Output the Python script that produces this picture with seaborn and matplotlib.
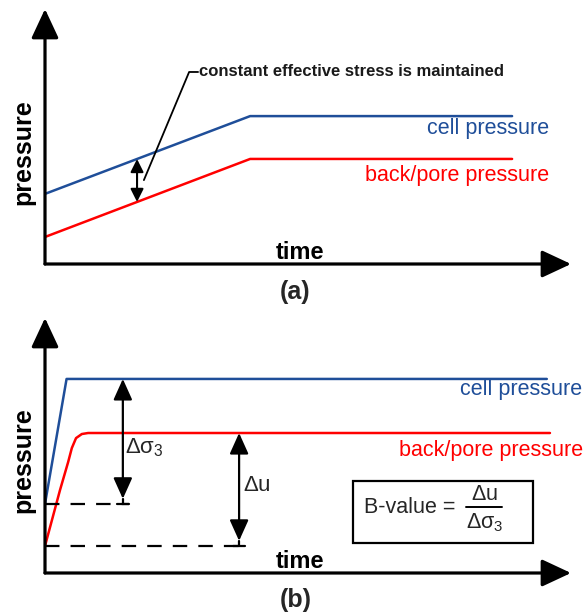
import matplotlib
matplotlib.use("Agg")
import matplotlib.pyplot as plt
from matplotlib.patches import Rectangle
import seaborn as sns

# ---------------- data ----------------
# panel (a): ramped cell and back/pore pressure
time_a = [0.0, 3.9, 8.88]
cell_a = [2.75, 5.8, 5.8]
pore_a = [1.06, 4.12, 4.12]

# panel (b): B-value check
time_b_cell = [0.0, 0.41, 9.54]
cell_b = [2.71, 7.61, 7.61]
time_b_pore = [0.0, 0.285, 0.44, 0.51, 0.59, 0.70, 0.82, 9.6]
pore_b = [1.06, 3.25, 4.35, 4.9, 5.29, 5.45, 5.49, 5.49]

labels_a = ["cell pressure", "back/pore pressure"]
labels_b = ["cell pressure", "back/pore pressure"]
annotation_a = "constant effective stress is maintained"

BLUE = "#1f4e99"
RED = "#ff0000"

sns.set_theme(style="white")
plt.rcParams["font.family"] = ["Liberation Sans", "DejaVu Sans"]
plt.rcParams["mathtext.fontset"] = "custom"
plt.rcParams["mathtext.rm"] = "Liberation Sans"
plt.rcParams["mathtext.it"] = "Liberation Sans"
plt.rcParams["mathtext.bf"] = "Liberation Sans:bold"

fig = plt.figure(figsize=(5.85, 6.13), dpi=100)
fig.patch.set_facecolor("white")
axa = fig.add_axes([45 / 585, (613 - 264) / 613, 526 / 585, 255 / 613])
axb = fig.add_axes([45 / 585, (613 - 573) / 613, 526 / 585, 255 / 613])


def style_axes(ax, ylab_y):
    ax.set_xlim(0, 10)
    ax.set_ylim(0, 10)
    ax.set_xticks([])
    ax.set_yticks([])
    for s in ax.spines.values():
        s.set_visible(False)
    ax.set_facecolor("none")
    for end in [(1, 0), (0, 1)]:
        ax.annotate("", xy=end, xytext=(0, 0), xycoords="axes fraction",
                    arrowprops=dict(arrowstyle="-|>,head_length=0.9,head_width=0.42",
                                    mutation_scale=20, lw=2.3, color="black",
                                    shrinkA=0, shrinkB=0), annotation_clip=False)
    ax.set_ylabel("pressure", fontsize=18, fontweight="bold", color="black")
    ax.yaxis.label.set_va("center")
    ax.yaxis.set_label_coords(-0.042, ylab_y)
    ax.set_xlabel("time", fontsize=17, fontweight="bold", color="black")
    ax.xaxis.label.set_va("center")
    ax.xaxis.set_label_coords(0.485, 0.047)


# ---------------- panel (a) ----------------
sns.lineplot(x=time_a, y=cell_a, ax=axa, color=BLUE, lw=1.8)
sns.lineplot(x=time_a, y=pore_a, ax=axa, color=RED, lw=1.8)
style_axes(axa, 0.44)

axa.text(9.58, 5.33, labels_a[0], color=BLUE, fontsize=15.5, ha="right", va="center")
axa.text(9.58, 3.49, labels_a[1], color=RED, fontsize=15.5, ha="right", va="center")

t_arr = 1.75
c_at = cell_a[0] + (cell_a[1] - cell_a[0]) * t_arr / time_a[1]
p_at = pore_a[0] + (pore_a[1] - pore_a[0]) * t_arr / time_a[1]
axa.annotate("", xy=(t_arr, c_at), xytext=(t_arr, p_at),
             arrowprops=dict(arrowstyle="<|-|>,head_length=0.6,head_width=0.3",
                             mutation_scale=13, lw=1.5, color="black",
                             shrinkA=0, shrinkB=0))
axa.plot([1.88, 2.74, 2.91], [3.29, 7.53, 7.53], color="black", lw=1.3)
axa.text(2.93, 7.53, annotation_a, fontsize=12, fontweight="bold", color="#1a1a1a",
         ha="left", va="center")

fig.text(295 / 585, 1 - 292 / 613, "(a)", fontsize=18, fontweight="bold",
         ha="center", va="center")

# ---------------- panel (b) ----------------
sns.lineplot(x=time_b_cell, y=cell_b, ax=axb, color=BLUE, lw=1.8)
sns.lineplot(x=time_b_pore, y=pore_b, ax=axb, color=RED, lw=1.8)
style_axes(axb, 0.443)

axb.text(10.21, 7.18, labels_b[0], color=BLUE, fontsize=15.5, ha="right", va="center", clip_on=False)
axb.text(10.24, 4.82, labels_b[1], color=RED, fontsize=15.5, ha="right", va="center", clip_on=False)

x1, x2 = 1.48, 3.69
axb.plot([0, x1 + 0.12], [cell_b[0], cell_b[0]], color="black", lw=1.6, dashes=(6.5, 5))
axb.plot([0, x2 + 0.12], [pore_b[0], pore_b[0]], color="black", lw=1.6, dashes=(6.5, 5))
for x, top, bot in [(x1, cell_b[-1], cell_b[0]), (x2, pore_b[-1], pore_b[0])]:
    axb.annotate("", xy=(x, top), xytext=(x, bot + 0.2),
                 arrowprops=dict(arrowstyle="<|-|>,head_length=0.8,head_width=0.36",
                                 mutation_scale=16, lw=1.6, color="black",
                                 shrinkA=0, shrinkB=0))
    axb.plot([x, x], [bot, bot + 0.2], color="black", lw=1.6)
    axb.plot([x - 0.12, x + 0.12], [bot, bot], color="black", lw=1.6)

axb.text(1.52, 4.9, r"$\Delta\sigma_3$", fontsize=16, ha="left", va="center")
axb.text(3.76, 3.45, r"$\Delta$u", fontsize=16, ha="left", va="center")

axb.add_patch(Rectangle((5.86, 1.18), 3.42, 2.43, fill=False, lw=1.6, ec="black"))
axb.text(6.06, 2.55, "B-value =", fontsize=15.5, ha="left", va="center")
axb.text(8.35, 3.08, r"$\Delta$u", fontsize=15.5, ha="center", va="center")
axb.plot([8.0, 8.69], [2.59, 2.59], color="black", lw=1.4)
axb.text(8.35, 1.98, r"$\Delta\sigma_3$", fontsize=15.5, ha="center", va="center")

fig.text(296 / 585, 1 - 600 / 613, "(b)", fontsize=18, fontweight="bold",
         ha="center", va="center")

fig.savefig("out.png", dpi=100, facecolor="white")
